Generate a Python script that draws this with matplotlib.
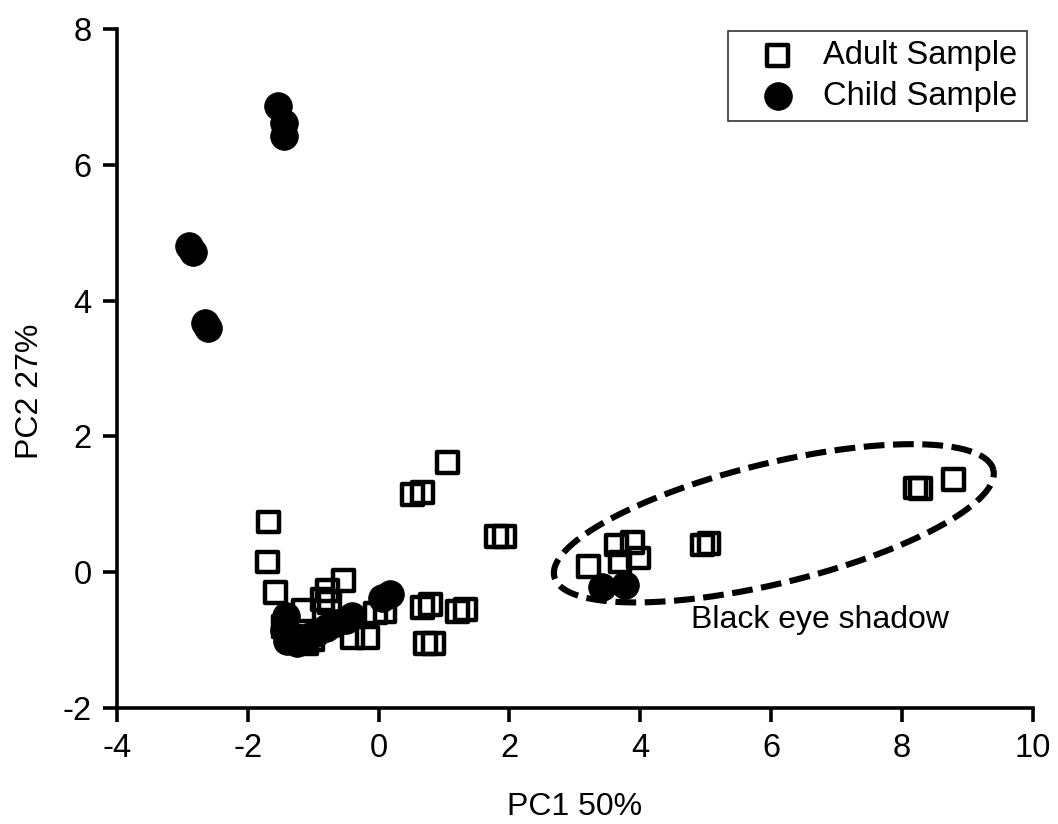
import numpy as np
import matplotlib
matplotlib.use("Agg")
import matplotlib.pyplot as plt

plt.rcParams['font.family'] = ['Liberation Sans', 'DejaVu Sans']
plt.rcParams['axes.unicode_minus'] = False

# ---- data ----
adult_x = [1.05, 0.52, 0.67, 1.80, 1.92,
           -1.68, -1.70, -1.57,
           -0.53, -0.78, -0.75, -0.85,
           0.67, 0.79, 1.21, 1.33,
           0.72, 0.84,
           -0.40, -0.17, -0.05, 0.10,
           -1.15, -1.45, -1.35, -1.10, -1.00,
           3.21, 3.63, 3.88, 3.69, 3.97, 4.95, 5.05, 8.20, 8.28, 8.78]
adult_y = [1.61, 1.14, 1.17, 0.52, 0.53,
           0.74, 0.15, -0.30,
           -0.12, -0.27, -0.45, -0.40,
           -0.52, -0.47, -0.58, -0.55,
           -1.05, -1.05,
           -0.96, -0.96, -0.60, -0.58,
           -0.56, -0.80, -0.95, -1.05, -1.00,
           0.08, 0.40, 0.44, 0.15, 0.21, 0.40, 0.42, 1.24, 1.23, 1.37]

child_x = [-1.53, -1.45, -1.45,
           -2.89, -2.84, -2.65, -2.61,
           -1.42, -1.45, -1.40, -1.25, -1.10, -0.95, -0.80, -0.65, -0.50, -0.40,
           0.05, 0.18,
           3.42, 3.77]
child_y = [6.87, 6.62, 6.42,
           4.81, 4.72, 3.67, 3.59,
           -0.64, -0.85, -1.02, -1.05, -0.95, -0.90, -0.82, -0.75, -0.70, -0.65,
           -0.38, -0.32,
           -0.22, -0.19]

x_ticks = [-4, -2, 0, 2, 4, 6, 8, 10]
y_ticks = [-2, 0, 2, 4, 6, 8]
x_label = "PC1 50%"
y_label = "PC2 27%"
series_names = ["Adult Sample", "Child Sample"]
annotation = "Black eye shadow"

# ---- figure ----
fig = plt.figure(figsize=(10.58, 8.24), dpi=100)
ax = fig.add_axes([0.1103, 0.1408, 0.8661, 0.8240])

ax.scatter(adult_x, adult_y, marker='s', s=225, facecolors='none',
           edgecolors='black', linewidths=3.2, label=series_names[0], zorder=3)
ax.scatter(child_x, child_y, marker='o', s=400, facecolors='black',
           edgecolors='black', linewidths=0.5, label=series_names[1], zorder=4)

# dashed ellipse (annotation) around the eye-shadow group
px_x = 65.47   # pixels per x unit
px_y = 67.9    # pixels per y unit
cx, cy = 6.04, 0.72
a_px, b_px, ang = 226.0, 60.0, np.deg2rad(13.7)
t = np.linspace(0, 2 * np.pi, 400)
ex = cx + (a_px * np.cos(ang) * np.cos(t) - b_px * np.sin(ang) * np.sin(t)) / px_x
ey = cy + (a_px * np.sin(ang) * np.cos(t) + b_px * np.cos(ang) * np.sin(t)) / px_y
ax.plot(ex, ey, color='black', lw=4.4, linestyle=(0, (3.4, 1.4)),
        dash_capstyle='butt', zorder=2)
ax.text(6.74, -0.71, annotation, fontsize=23, ha='center', va='center')

ax.set_xlim(-4, 10)
ax.set_ylim(-2, 8)
ax.set_xticks(x_ticks)
ax.set_yticks(y_ticks)
ax.tick_params(labelsize=23.5, width=2.6, length=10, direction='out', pad=8)
for side in ['top', 'right']:
    ax.spines[side].set_visible(False)
for side in ['left', 'bottom']:
    ax.spines[side].set_linewidth(2.6)

ax.set_xlabel(x_label, fontsize=23, labelpad=20)
ax.set_ylabel(y_label, fontsize=23)
ax.yaxis.set_label_coords(-0.078, 0.467)

leg = ax.legend(loc='upper right', bbox_to_anchor=(0.9932, 0.997),
                fontsize=23.5, frameon=True, fancybox=False,
                edgecolor='black', borderaxespad=0.0, handlelength=2.5,
                handletextpad=0.15, labelspacing=0.3, borderpad=0.28,
                markerscale=1.0)
leg.get_frame().set_linewidth(1.2)

fig.savefig("out.png", dpi=100, facecolor='white')
